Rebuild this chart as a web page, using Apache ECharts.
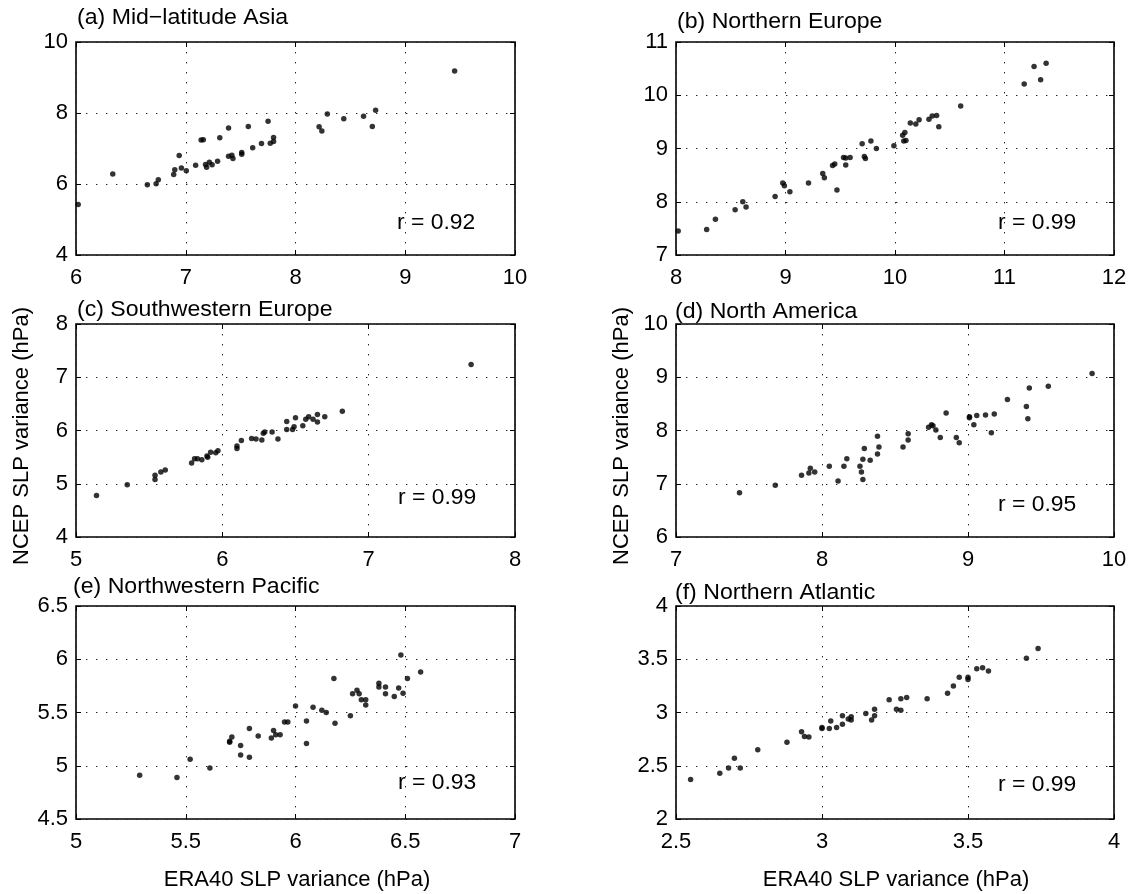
<!DOCTYPE html>
<html>
<head>
<meta charset="utf-8">
<title>NCEP vs ERA40 SLP variance</title>
<script src="https://cdn.jsdelivr.net/npm/echarts@6/dist/echarts.min.js"></script>
<style>
  html, body { margin: 0; padding: 0; background: #fff; }
  #chart { width: 1131px; height: 894px; }
</style>
</head>
<body>
<div id="chart"></div>
<script>
// ---- data: [ERA40 variance, NCEP variance] pairs per region ----
const asiaPts = [
  [6.02, 5.42], [6.335, 6.28], [6.65, 5.98], [6.73, 6.01], [6.75, 6.12], [6.89, 6.27],
  [6.90, 6.40], [6.94, 6.80], [6.96, 6.45], [7.005, 6.37], [7.09, 6.53], [7.14, 7.24],
  [7.16, 7.25], [7.18, 6.55], [7.19, 6.47], [7.215, 6.61], [7.24, 6.54], [7.29, 6.64],
  [7.31, 7.30], [7.39, 7.58], [7.39, 6.78], [7.42, 6.81], [7.43, 6.72], [7.51, 6.89],
  [7.51, 6.84], [7.57, 7.62], [7.61, 7.02], [7.69, 7.14], [7.75, 7.77], [7.77, 7.15],
  [7.80, 7.31], [7.80, 7.20], [8.215, 7.61], [8.24, 7.49], [8.29, 7.97], [8.44, 7.84],
  [8.62, 7.91], [8.70, 7.62], [8.73, 8.08], [9.45, 9.18]
];
const nEuropePts = [
  [8.02, 7.45], [8.28, 7.48], [8.36, 7.67], [8.54, 7.85], [8.61, 8.00], [8.64, 7.90],
  [8.905, 8.10], [8.975, 8.35], [8.99, 8.30], [9.04, 8.19], [9.21, 8.35], [9.34, 8.53],
  [9.355, 8.45], [9.43, 8.68], [9.45, 8.71], [9.47, 8.22], [9.53, 8.83], [9.55, 8.69],
  [9.55, 8.82], [9.59, 8.83], [9.70, 9.09], [9.72, 8.85], [9.73, 8.81], [9.78, 9.14],
  [9.83, 9.00], [9.99, 9.05], [10.07, 9.25], [10.08, 9.14], [10.09, 9.30], [10.10, 9.15],
  [10.14, 9.48], [10.19, 9.46], [10.22, 9.54], [10.31, 9.55], [10.34, 9.61], [10.38, 9.62],
  [10.40, 9.41], [10.60, 9.80], [11.18, 10.21], [11.27, 10.54], [11.33, 10.29], [11.38, 10.60]
];
const swEuropePts = [
  [5.14, 4.78], [5.35, 4.98], [5.54, 5.16], [5.54, 5.08], [5.58, 5.22], [5.61, 5.26],
  [5.79, 5.39], [5.81, 5.47], [5.83, 5.47], [5.86, 5.45], [5.895, 5.52], [5.90, 5.50],
  [5.92, 5.59], [5.955, 5.58], [5.97, 5.62], [6.10, 5.71], [6.10, 5.66], [6.13, 5.81],
  [6.20, 5.85], [6.23, 5.84], [6.27, 5.82], [6.28, 5.95], [6.29, 5.97], [6.34, 5.97],
  [6.38, 5.84], [6.44, 6.02], [6.44, 6.17], [6.48, 6.02], [6.49, 6.07], [6.50, 6.24],
  [6.55, 6.09], [6.57, 6.21], [6.59, 6.26], [6.62, 6.21], [6.65, 6.30], [6.65, 6.16],
  [6.70, 6.26], [6.82, 6.36], [7.70, 7.24]
];
const nAmericaPts = [
  [7.435, 6.83], [7.68, 6.97], [7.86, 7.16], [7.91, 7.20], [7.92, 7.29], [7.95, 7.22],
  [8.05, 7.33], [8.11, 7.05], [8.15, 7.33], [8.17, 7.47], [8.26, 7.33], [8.27, 7.22],
  [8.28, 7.08], [8.28, 7.46], [8.29, 7.66], [8.33, 7.44], [8.38, 7.56], [8.39, 7.69],
  [8.38, 7.89], [8.555, 7.69], [8.59, 7.82], [8.59, 7.94], [8.73, 8.06], [8.75, 8.11],
  [8.76, 8.09], [8.78, 8.01], [8.81, 7.87], [8.85, 8.33], [8.92, 7.87], [8.94, 7.77],
  [9.01, 8.24], [9.01, 8.26], [9.04, 8.11], [9.06, 8.28], [9.12, 8.29], [9.16, 7.96],
  [9.18, 8.31], [9.27, 8.58], [9.40, 8.45], [9.41, 8.22], [9.42, 8.80], [9.55, 8.83],
  [9.85, 9.07]
];
const nwPacificPts = [
  [5.29, 4.91], [5.46, 4.89], [5.52, 5.06], [5.61, 4.98], [5.70, 5.22], [5.70, 5.23],
  [5.71, 5.27], [5.75, 5.19], [5.75, 5.10], [5.79, 5.08], [5.79, 5.35], [5.83, 5.28],
  [5.89, 5.26], [5.90, 5.33], [5.91, 5.29], [5.93, 5.29], [5.95, 5.41], [5.965, 5.41],
  [6.00, 5.56], [6.05, 5.42], [6.05, 5.21], [6.08, 5.55], [6.12, 5.52], [6.14, 5.50],
  [6.175, 5.82], [6.18, 5.40], [6.25, 5.47], [6.26, 5.675], [6.28, 5.71], [6.29, 5.675],
  [6.30, 5.62], [6.32, 5.57], [6.32, 5.62], [6.38, 5.775], [6.38, 5.74], [6.41, 5.74],
  [6.41, 5.675], [6.45, 5.65], [6.47, 5.73], [6.48, 6.04], [6.49, 5.68], [6.51, 5.82],
  [6.57, 5.88]
];
const nAtlanticPts = [
  [2.55, 2.37], [2.65, 2.43], [2.68, 2.48], [2.70, 2.57], [2.72, 2.48], [2.78, 2.65],
  [2.88, 2.72], [2.93, 2.82], [2.94, 2.775], [2.955, 2.77], [3.00, 2.86], [3.00, 2.85],
  [3.025, 2.85], [3.03, 2.92], [3.05, 2.86], [3.07, 2.89], [3.07, 2.97], [3.09, 2.94],
  [3.10, 2.96], [3.10, 2.93], [3.15, 2.99], [3.17, 2.93], [3.18, 3.03], [3.18, 2.97],
  [3.23, 3.12], [3.255, 3.03], [3.27, 3.13], [3.27, 3.02], [3.29, 3.14], [3.36, 3.13],
  [3.43, 3.18], [3.45, 3.25], [3.47, 3.33], [3.50, 3.31], [3.50, 3.33], [3.53, 3.41],
  [3.55, 3.42], [3.57, 3.39], [3.70, 3.51], [3.74, 3.60]
];

// ---- panel titles, correlation labels and tick values ----
const panelTitles = [
  '(a) Mid\u2212latitude Asia', '(b) Northern Europe', '(c) Southwestern Europe',
  '(d) North America', '(e) Northwestern Pacific', '(f) Northern Atlantic'
];
const corrLabels = ['r = 0.92', 'r = 0.99', 'r = 0.99', 'r = 0.95', 'r = 0.93', 'r = 0.99'];
const xTicks = [
  [6, 7, 8, 9, 10], [8, 9, 10, 11, 12], [5, 6, 7, 8],
  [7, 8, 9, 10], [5, 5.5, 6, 6.5, 7], [2.5, 3, 3.5, 4]
];
const yTicks = [
  [4, 6, 8, 10], [7, 8, 9, 10, 11], [4, 5, 6, 7, 8],
  [6, 7, 8, 9, 10], [4.5, 5, 5.5, 6, 6.5], [2, 2.5, 3, 3.5, 4]
];
const xAxisTitle = 'ERA40 SLP variance (hPa)';
const yAxisTitle = 'NCEP SLP variance (hPa)';
const panelData = [asiaPts, nEuropePts, swEuropePts, nAmericaPts, nwPacificPts, nAtlanticPts];

// ---- layout (pixels) ----
const FONT = '"Liberation Sans", Arial, Helvetica, sans-serif';
const FS = 22;
const PLOT_H = 213;
const colLeft = [76, 676];
const colWidth = [439, 438];
const rowTop = [42, 324, 606];
// title anchor (left x, vertical centre) and r-label anchor per panel
const titlePos = [[77, 18], [677, 22], [77, 310], [675, 312], [73, 587], [675, 593]];
const corrPos = [[397, 223], [998, 223], [398, 498], [998, 505], [398, 783], [998, 785]];

const chart = echarts.init(document.getElementById('chart'), null, { renderer: 'canvas' });

const grids = [], xAxes = [], yAxes = [], series = [], graphics = [];
const tickStyle = { inside: true, length: 5, lineStyle: { color: '#000', width: 1 } };
const dotted = { show: true, lineStyle: { color: '#222', width: 1, type: [1.4, 8.6] } };
const labelStyle = { color: '#000', fontSize: FS, fontFamily: FONT };

// left-anchored text; sx widens the lettering about its own left edge
function textEl(x, y, text, sx) {
  return {
    type: 'text', x, y, silent: true, scaleX: sx || 1, originX: 0, originY: 0,
    style: { text, fill: '#000', font: `${FS}px ${FONT}`, align: 'left', verticalAlign: 'middle' }
  };
}

panelData.forEach((pts, i) => {
  const col = i % 2, row = Math.floor(i / 2);
  const xt = xTicks[i], yt = yTicks[i];
  grids.push({
    left: colLeft[col], top: rowTop[row], width: colWidth[col], height: PLOT_H,
    show: true, borderColor: '#000', borderWidth: 1.6, backgroundColor: '#fff',
    containLabel: false, outerBoundsMode: 'none'
  });
  const xBase = {
    gridIndex: i, type: 'value', min: xt[0], max: xt[xt.length - 1],
    interval: xt[1] - xt[0], axisLine: { show: false }, axisTick: tickStyle
  };
  const yBase = {
    gridIndex: i, type: 'value', min: yt[0], max: yt[yt.length - 1],
    interval: yt[1] - yt[0], axisLine: { show: false }, axisTick: tickStyle
  };
  xAxes.push(Object.assign({}, xBase, {
    position: 'bottom', splitLine: dotted,
    axisLabel: Object.assign({ margin: 12 }, labelStyle)
  }));
  xAxes.push(Object.assign({}, xBase, {
    position: 'top', splitLine: { show: false }, axisLabel: { show: false }
  }));
  yAxes.push(Object.assign({}, yBase, {
    position: 'left', splitLine: dotted,
    axisLabel: Object.assign({ margin: 8 }, labelStyle)
  }));
  yAxes.push(Object.assign({}, yBase, {
    position: 'right', splitLine: { show: false }, axisLabel: { show: false }
  }));
  series.push({
    type: 'scatter', xAxisIndex: 2 * i, yAxisIndex: 2 * i, data: pts,
    symbol: 'circle', symbolSize: 5.5, itemStyle: { color: '#000' },
    silent: true, animation: false
  });
  graphics.push(textEl(titlePos[i][0], titlePos[i][1], panelTitles[i], 1.05));
  graphics.push(textEl(corrPos[i][0], corrPos[i][1], corrLabels[i], 1.04));
});

// shared axis titles: y title beside the middle row, x title under the bottom row
[[22, 436], [622, 436]].forEach(([x, y]) => graphics.push({
  type: 'text', x, y, rotation: Math.PI / 2, silent: true,
  style: { text: yAxisTitle, fill: '#000', font: `${FS}px ${FONT}`, align: 'center', verticalAlign: 'middle' }
}));
[[297, 880], [896, 880]].forEach(([x, y]) => graphics.push({
  type: 'text', x, y, silent: true,
  style: { text: xAxisTitle, fill: '#000', font: `${FS}px ${FONT}`, align: 'center', verticalAlign: 'middle' }
}));

chart.setOption({
  backgroundColor: '#fff',
  animation: false,
  grid: grids,
  xAxis: xAxes,
  yAxis: yAxes,
  series: series,
  graphic: graphics
});
</script>
</body>
</html>
